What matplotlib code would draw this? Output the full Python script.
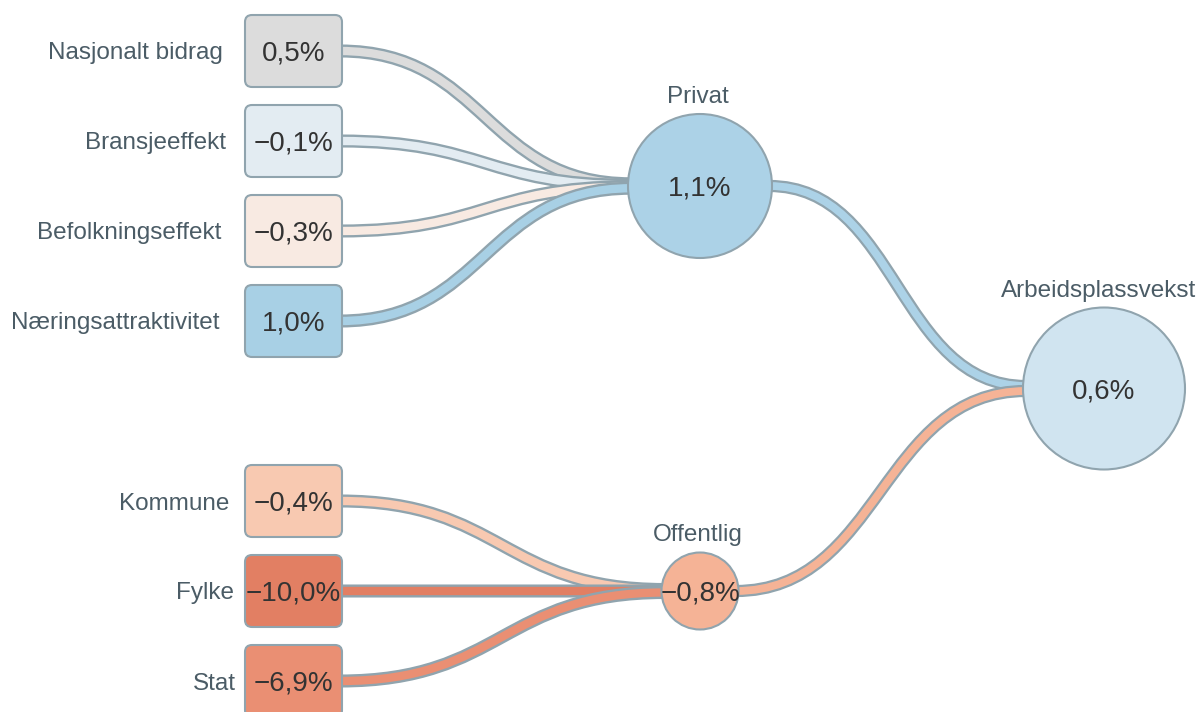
import matplotlib
matplotlib.use("Agg")
import matplotlib.pyplot as plt
from matplotlib.patches import FancyBboxPatch, Circle, PathPatch
from matplotlib.path import Path

plt.rcParams["font.family"] = ["Liberation Sans", "DejaVu Sans"]

# data
leaf_labels = ["Nasjonalt bidrag", "Bransjeeffekt", "Befolkningseffekt",
               "Næringsattraktivitet", "Kommune", "Fylke", "Stat"]
leaf_values = [0.5, -0.1, -0.3, 1.0, -0.4, -10.0, -6.9]
leaf_parent = ["Privat", "Privat", "Privat", "Privat",
               "Offentlig", "Offentlig", "Offentlig"]
leaf_colors = ["#dcdcdc", "#e3ecf2", "#f8eae2", "#a8d0e5",
               "#f8c9b1", "#e27f63", "#ea8f73"]

mid_labels = ["Privat", "Offentlig"]
mid_values = [1.1, -0.8]
mid_colors = ["#acd2e7", "#f5b396"]

root_label = "Arbeidsplassvekst"
root_value = 0.6
root_color = "#d0e4f0"

EDGE = "#90a4ae"
LABEL_C = "#4b5c66"
VALUE_C = "#333333"
DY = 2.5  # small baseline nudge for text


def fmt(v):
    return f"{v:.1f}".replace(".", ",").replace("-", "\u2212") + "%"


def link(ax, x0, y0, x1, y1, color, outer=9.4, inner=6.0):
    xm = (x0 + x1) / 2
    path = Path([(x0, y0), (xm, y0), (xm, y1), (x1, y1)],
                [Path.MOVETO, Path.CURVE4, Path.CURVE4, Path.CURVE4])
    ax.add_patch(PathPatch(path, facecolor="none", edgecolor=EDGE, lw=outer,
                           capstyle="butt", zorder=1))
    ax.add_patch(PathPatch(path, facecolor="none", edgecolor=color, lw=inner,
                           capstyle="butt", zorder=1))


fig = plt.figure(figsize=(12, 7.12), dpi=100)
ax = fig.add_axes([0, 0, 1, 1])
ax.set_xlim(0, 1200)
ax.set_ylim(712, 0)
ax.axis("off")

# layout
box_x0, box_w, box_h = 245, 97, 72
slots = [0, 1, 2, 3, 5, 6, 7]
leaf_y = [51 + 90 * s for s in slots]
mid_x = 700
mid_r = [72, 38.5]
mid_y = []
for m in mid_labels:
    ys = [y for y, p in zip(leaf_y, leaf_parent) if p == m]
    mid_y.append(sum(ys) / len(ys))
root_x, root_r = 1104, 81
root_y = sum(mid_y) / len(mid_y)

# links leaf -> mid
for k, m in enumerate(mid_labels):
    kids = [i for i, p in enumerate(leaf_parent) if p == m]
    n = len(kids)
    for j, i in enumerate(kids):
        ye = mid_y[k] + (j - (n - 1) / 2) * 1.5
        link(ax, box_x0 + box_w - 2, leaf_y[i], mid_x - mid_r[k] + 3, ye,
             leaf_colors[i])

# links mid -> root
for k in range(len(mid_labels)):
    ye = root_y + (k - 0.5) * 5
    link(ax, mid_x + mid_r[k] - 3, mid_y[k], root_x - root_r + 3, ye,
         mid_colors[k], outer=8.8, inner=5.6)

renderer = fig.canvas.get_renderer()

# leaf boxes
for lab, v, y, c in zip(leaf_labels, leaf_values, leaf_y, leaf_colors):
    ax.add_patch(FancyBboxPatch((box_x0, y - box_h / 2), box_w, box_h,
                                boxstyle="round,pad=0,rounding_size=7",
                                facecolor=c, edgecolor=EDGE, lw=1.5, zorder=2))
    ax.text(box_x0 + box_w / 2, y + DY, fmt(v), ha="center", va="center",
            fontsize=20, color=VALUE_C, zorder=3)
    t = ax.text(240, y + DY, lab, ha="right", va="center", fontsize=17.5,
                color=LABEL_C, zorder=3)
    w = t.get_window_extent(renderer=renderer).width
    t.set_x(240 - 0.1 * w)

# mid circles
for lab, v, y, r, c in zip(mid_labels, mid_values, mid_y, mid_r, mid_colors):
    ax.add_patch(Circle((mid_x, y), r, facecolor=c, edgecolor=EDGE, lw=1.5, zorder=2))
    ax.text(mid_x, y + DY, fmt(v), ha="center", va="center", fontsize=20,
            color=VALUE_C, zorder=3)
    ax.text(mid_x - 2, y - r - 6, lab, ha="center", va="bottom", fontsize=17.5,
            color=LABEL_C, zorder=3)

# root circle
ax.add_patch(Circle((root_x, root_y), root_r, facecolor=root_color, edgecolor=EDGE,
                    lw=1.5, zorder=2))
ax.text(root_x, root_y + DY, fmt(root_value), ha="center", va="center", fontsize=20,
        color=VALUE_C, zorder=3)
ax.text(root_x - 5, root_y - root_r - 6, root_label, ha="center", va="bottom",
        fontsize=17.5, color=LABEL_C, zorder=3)

fig.savefig("out.png", dpi=100)
